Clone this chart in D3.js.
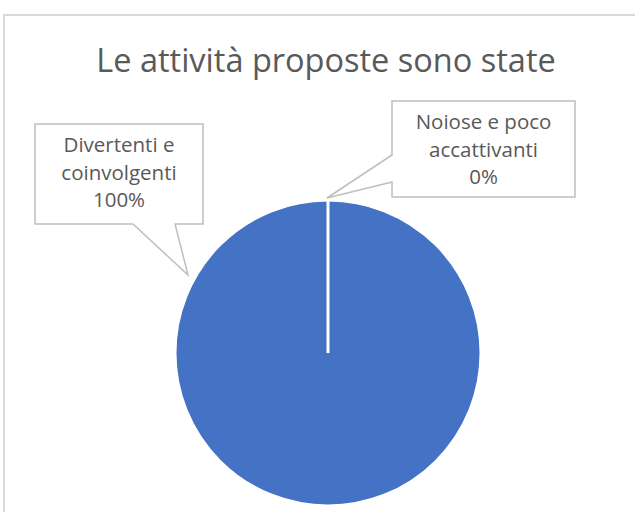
<!DOCTYPE html>
<html>
<head>
<meta charset="utf-8">
<script src="https://cdn.jsdelivr.net/npm/d3@7"></script>
<style>
  html, body { margin: 0; padding: 0; background: #fff; }
  svg { display: block; }
  text { font-family: "Open Sans", Lato, sans-serif; fill: #595959; font-variant-ligatures: none; }
</style>
</head>
<body>
<div id="chart"></div>
<script>
// data
const title = 'Le attività proposte sono state';
const categories = ['Divertenti e coinvolgenti', 'Noiose e poco accattivanti'];
const values = [100, 0];
const labelLines = [
  ['Divertenti e', 'coinvolgenti', '100%'],
  ['Noiose e poco', 'accattivanti', '0%']
];

const width = 635, height = 512;
const cx = 328, cy = 353, r = 153;

// callout boxes (x, y, w, h) and pointer (base along an edge + tip)
const callouts = [
  { x: 35, y: 124, w: 168, h: 100, edge: 'bottom', b1: 133, b2: 175, tip: [188, 275] },
  { x: 392, y: 101, w: 183, h: 96, edge: 'left', b1: 155, b2: 182, tip: [327, 198] }
];

const svg = d3.select('#chart').append('svg')
    .attr('width', width)
    .attr('height', height);

// chart area border (only top and left visible)
svg.append('path')
    .attr('d', `M4,${height} L4,15 L${width},15`)
    .attr('fill', 'none')
    .attr('stroke', '#d9d9d9')
    .attr('stroke-width', 2);

svg.append('text')
    .attr('x', 326)
    .attr('y', 72)
    .attr('text-anchor', 'middle')
    .attr('font-size', 32.5)
    .text(title);

const pie = d3.pie().sort(null)(values);
const arc = d3.arc().innerRadius(0).outerRadius(r);

svg.append('g')
    .attr('transform', `translate(${cx},${cy})`)
  .selectAll('path')
  .data(pie)
  .join('path')
    .attr('d', arc)
    .attr('fill', '#4472c4')
    .attr('stroke', '#fff')
    .attr('stroke-width', 3);

function calloutPath(c) {
  const x0 = c.x, y0 = c.y, x1 = c.x + c.w, y1 = c.y + c.h;
  if (c.edge === 'bottom') {
    return `M${x0},${y0} L${x1},${y0} L${x1},${y1} L${c.b2},${y1} L${c.tip[0]},${c.tip[1]} L${c.b1},${y1} L${x0},${y1} Z`;
  }
  return `M${x0},${y0} L${x1},${y0} L${x1},${y1} L${x0},${y1} L${x0},${c.b2} L${c.tip[0]},${c.tip[1]} L${x0},${c.b1} Z`;
}

const lab = svg.selectAll('g.label')
  .data(categories)
  .join('g')
    .attr('class', 'label');

lab.append('path')
    .attr('d', (d, i) => calloutPath(callouts[i]))
    .attr('fill', '#fff')
    .attr('stroke', '#bfbfbf')
    .attr('stroke-width', 1.5);

lab.each(function(d, i) {
  const c = callouts[i];
  const t = d3.select(this).append('text')
      .attr('text-anchor', 'middle')
      .attr('font-size', 20.5);
  labelLines[i].forEach((line, k) => {
    t.append('tspan')
        .attr('x', c.x + c.w / 2)
        .attr('y', c.y + 28 + k * 27.5)
        .text(line);
  });
});
</script>
</body>
</html>
